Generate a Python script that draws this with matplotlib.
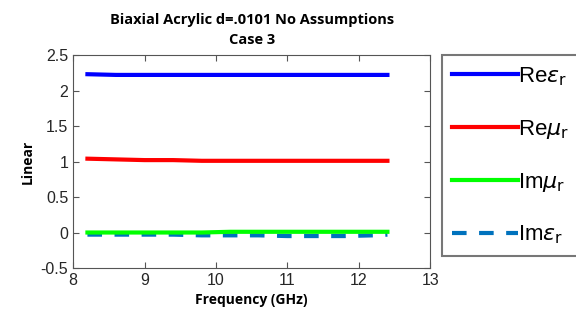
import numpy as np
import matplotlib.pyplot as plt

freq = [8.2, 8.6, 9.0, 9.4, 9.8, 10.2, 10.6, 11.0, 11.4, 11.8, 12.2, 12.4]
re_eps = [2.23, 2.22, 2.22, 2.22, 2.22, 2.22, 2.22, 2.22, 2.22, 2.22, 2.22, 2.22]
re_mu = [1.04, 1.03, 1.02, 1.02, 1.01, 1.01, 1.01, 1.01, 1.01, 1.01, 1.01, 1.01]
im_mu = [0.0, 0.0, 0.0, 0.0, 0.0, 0.01, 0.01, 0.01, 0.01, 0.01, 0.01, 0.01]
im_eps = [-0.03, -0.03, -0.03, -0.03, -0.04, -0.04, -0.04, -0.05, -0.05, -0.05, -0.04, -0.03]

title = 'Biaxial Acrylic d=.0101 No Assumptions\nCase 3'
xticks = [8, 9, 10, 11, 12, 13]
yticks = [-0.5, 0, 0.5, 1, 1.5, 2, 2.5]

plt.rcParams['font.family'] = ['Liberation Sans', 'DejaVu Sans']
plt.rcParams['mathtext.fontset'] = 'dejavusans'

fig = plt.figure(figsize=(5.76, 3.2), dpi=100)
ax = fig.add_axes([0.127, 0.1625, 0.62, 0.6655])

ax.plot(freq, re_eps, color='#0000ff', lw=3, label=r'Re$\epsilon_{\mathrm{r}}$')
ax.plot(freq, re_mu, color='#ff0000', lw=3, label=r'Re$\mu_{\mathrm{r}}$')
ax.plot(freq, im_mu, color='#00ff00', lw=3, label=r'Im$\mu_{\mathrm{r}}$', zorder=3)
ax.plot(freq, im_eps, color='#0072bd', lw=3, ls=(0, (3.5, 3)), label=r'Im$\epsilon_{\mathrm{r}}$', zorder=2)

ax.set_xlim(8, 13)
ax.set_ylim(-0.5, 2.5)
ax.set_xticks(xticks)
ax.set_yticks(yticks)
ax.set_yticklabels(['-0.5', '0', '0.5', '1', '1.5', '2', '2.5'])
ax.tick_params(direction='in', top=True, right=True, labelsize=11.5, length=4,
               color='#555555', labelcolor='#262626')
for s in ax.spines.values():
    s.set_color('#555555')

ax.set_title(title, fontsize=10.5, fontweight='bold', family='Open Sans', pad=8, linespacing=1.5)
ax.set_xlabel('Frequency (GHz)', fontsize=10, fontweight='bold', family='Open Sans')
ax.set_ylabel('Linear', fontsize=10, fontweight='bold', family='Open Sans')

leg = fig.legend(loc='upper left', bbox_to_anchor=(0.767, 0.828), fontsize=16,
                 handlelength=3.0, handletextpad=0.0, labelspacing=1.35,
                 borderpad=0.45, borderaxespad=0, fancybox=False, frameon=True)
leg.get_frame().set_edgecolor('#555555')
leg.get_frame().set_linewidth(1.5)

fig.savefig('out.png', dpi=100)
